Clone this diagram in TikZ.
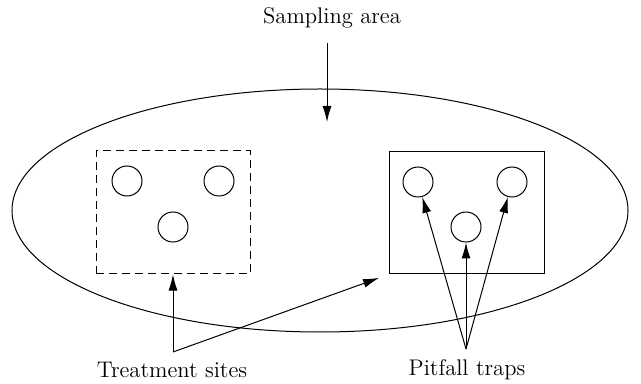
\documentclass[tikz,border=0pt]{standalone}
\usetikzlibrary{arrows.meta}
\tikzset{
  trap/.style={draw,circle,minimum size=15pt,inner sep=0pt},
  pil/.style={-{Latex[length=8pt,width=4.5pt]}},
  lbl/.style={inner sep=0pt,font=\fontsize{11.3}{13}\selectfont}
}

\begin{document}
\begin{tikzpicture}[x=0.5pt,y=-0.5pt,line width=0.5pt]
				\useasboundingbox (0,0) rectangle (641,384);
				% sampling area
				\draw (320,210.5) ellipse[x radius=308,y radius=121.5];
				\node[lbl] (sa) at (332,18) {Sampling area};
				\coordinate (satop) at (327,43);
				\coordinate (satip) at (327,122);
				\draw[pil] (satop) -- (satip);
				% treatment sites
				\node[draw,dash pattern=on 4pt off 2.5pt,minimum width=77pt,minimum height=61.5pt,inner sep=0pt] (tbox) at (173,212.5) {};
				\node[trap] (t1) at (127,181) {};
				\node[trap] (t2) at (219,181) {};
				\node[trap] (t3) at (173,227) {};
				% pitfall traps
				\node[draw,minimum width=77.5pt,minimum height=61pt,inner sep=0pt] (pbox) at (466.5,213) {};
				\node[trap] (p1) at (418,182) {};
				\node[trap] (p2) at (512,182) {};
				\node[trap] (p3) at (466,227) {};
				% labels
				\node[lbl] (tlbl) at (172,370) {Treatment sites};
				\node[lbl] (plbl) at (467,370) {Pitfall traps};
				\coordinate (tapex) at (173,352);
				\coordinate (papex) at (466,349);
				\draw[pil] (tapex) -- (tbox.south);
				\draw[pil,shorten >=5pt] (tapex) -- (pbox.south west);
				\draw[pil] (papex) -- (p1);
				\draw[pil] (papex) -- (p2);
				\draw[pil] (papex) -- (p3);
			\end{tikzpicture}
\end{document}
